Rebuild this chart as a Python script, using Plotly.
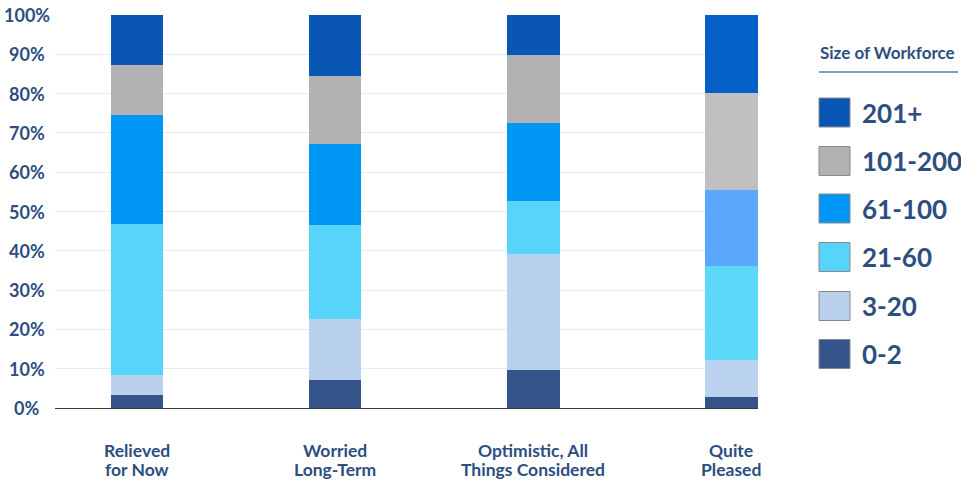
import plotly.graph_objects as go

# Survey response groups (x categories)
categories = [
    "Relieved<br>for Now",
    "Worried<br>Long-Term",
    "Optimistic, All<br>Things Considered",
    "Quite<br>Pleased",
]

# Workforce-size groups, bottom of stack first
size_groups = ["0-2", "3-20", "21-60", "61-100", "101-200", "201+"]

# Share of respondents (%) in each workforce-size group, per response
share_0_2 = [3.3, 7.1, 9.7, 2.8]
share_3_20 = [5.2, 15.5, 29.5, 9.4]
share_21_60 = [38.3, 24.0, 13.5, 23.9]
share_61_100 = [27.8, 20.6, 19.8, 19.4]
share_101_200 = [12.7, 17.3, 17.3, 24.7]
share_201_plus = [12.7, 15.5, 10.2, 19.8]

y_ticks = [0, 10, 20, 30, 40, 50, 60, 70, 80, 90, 100]
y_tick_labels = [f"{v}%" for v in y_ticks]

series = [share_0_2, share_3_20, share_21_60, share_61_100, share_101_200, share_201_plus]

# Fill colours per group; the last bar uses slightly different shades
bar_colors = [
    ["#34548a", "#34548a", "#34548a", "#34548a"],
    ["#bad1ee", "#bad1ee", "#bad1ee", "#bcd3ef"],
    ["#56d4fa", "#56d4fa", "#56d4fa", "#5cd8fa"],
    ["#0096f5", "#0096f5", "#0096f5", "#5aa8fb"],
    ["#b2b2b2", "#b2b2b2", "#b2b2b2", "#c0c0c0"],
    ["#0a56b4", "#0a56b4", "#0a56b4", "#0560c8"],
]
legend_colors = ["#34548a", "#bad1ee", "#56d4fa", "#0096f5", "#b2b2b2", "#0a56b4"]

TEXT = "#2d4e80"
FONT = "Lato"

W, H = 961, 481
L, R, T, B = 55, 203, 15, 73
plot_w = W - L - R
plot_h = H - T - B


def px_x(px):
    return (px - L) / plot_w


def px_y(py):
    return (H - B - py) / plot_h


fig = go.Figure()
for name, vals, cols in zip(size_groups, series, bar_colors):
    fig.add_trace(go.Bar(
        x=categories,
        y=vals,
        name=name,
        width=0.265,
        marker=dict(color=cols, line=dict(width=0)),
        showlegend=False,
        hoverinfo="x+y+name",
    ))

# Y tick labels, centred in the left margin
for v, lab in zip(y_ticks, y_tick_labels):
    fig.add_annotation(
        x=px_x(26.5), xref="paper", y=v, yref="y",
        text=lab, showarrow=False, xanchor="center", yanchor="middle",
        font=dict(family=FONT, size=18, color=TEXT, weight=700),
    )

# Category labels under the axis, two tight lines each
for cat in categories:
    for line_text, py in zip(cat.split("<br>"), (451, 469)):
        fig.add_annotation(
            x=cat, xref="x", y=px_y(py), yref="paper",
            text=line_text, showarrow=False, xanchor="center", yanchor="middle",
            font=dict(family=FONT, size=17.5, color=TEXT, weight=700),
        )

# Custom legend block
shapes = []
fig.add_annotation(
    x=px_x(818), xref="paper", y=px_y(53), yref="paper",
    text="Size of Workforce", showarrow=False, xanchor="left", yanchor="middle",
    font=dict(family=FONT, size=17, color=TEXT, weight=700),
)
shapes.append(dict(type="line", xref="paper", yref="paper",
                   x0=px_x(819), x1=px_x(958), y0=px_y(72), y1=px_y(72),
                   line=dict(color="#5a7cb8", width=1.5)))

legend_centers = [354, 306, 257, 208.5, 161, 112.5]
for name, col, cy in zip(size_groups, legend_colors, legend_centers):
    shapes.append(dict(type="rect", xref="paper", yref="paper",
                       x0=px_x(819), x1=px_x(850),
                       y0=px_y(cy + 14.5), y1=px_y(cy - 14.5),
                       fillcolor=col, line=dict(color="#8a8a8a", width=1)))
    fig.add_annotation(
        x=px_x(860), xref="paper", y=px_y(cy), yref="paper",
        text=name, showarrow=False, xanchor="left", yanchor="middle",
        font=dict(family=FONT, size=26, color=TEXT, weight=700),
    )

fig.update_layout(
    barmode="stack",
    width=W, height=H,
    margin=dict(l=L, r=R, t=T, b=B, pad=0),
    paper_bgcolor="white",
    plot_bgcolor="white",
    font=dict(family=FONT, color=TEXT),
    shapes=shapes,
    xaxis=dict(
        range=[-0.414, 3.134],
        automargin=False,
        showgrid=False,
        showline=True, linecolor="#3a3a3a", linewidth=1,
        ticks="", showticklabels=False,
    ),
    yaxis=dict(
        range=[0, 100],
        automargin=False,
        tickvals=y_ticks,
        showticklabels=False,
        showgrid=True, gridcolor="#e5ecf8", gridwidth=1,
        zeroline=False,
    ),
)

fig.write_html("out.html")
